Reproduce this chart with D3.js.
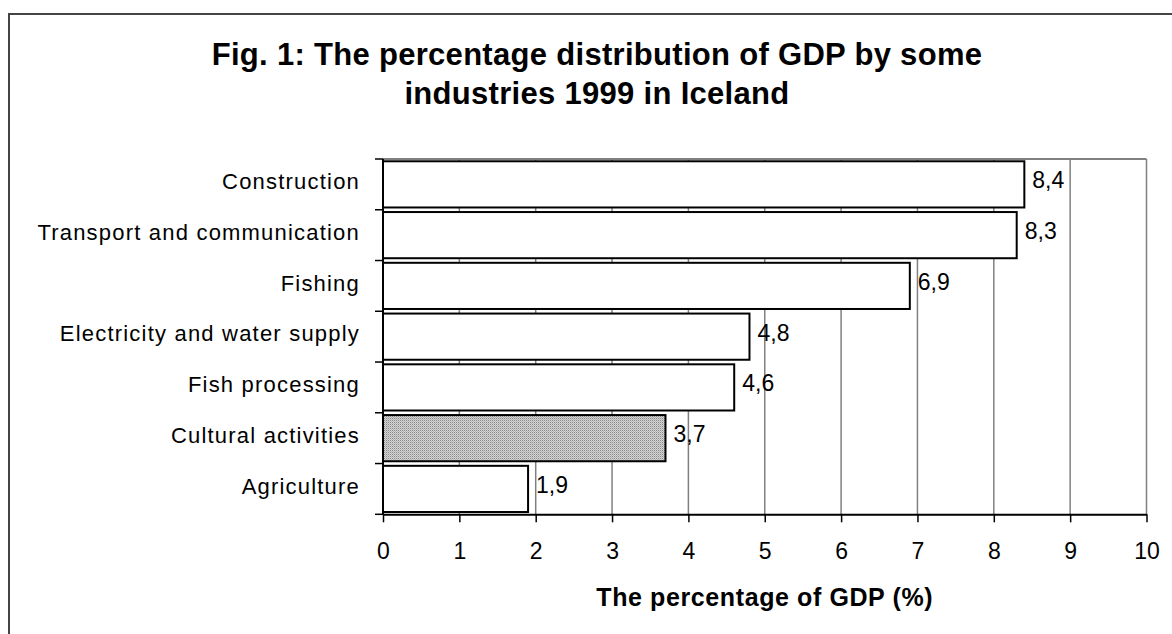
<!DOCTYPE html>
<html>
<head>
<meta charset="utf-8">
<script src="https://cdn.jsdelivr.net/npm/d3@7"></script>
<style>
  html, body { margin: 0; padding: 0; background: #fff; }
  svg { display: block; }
  text { font-family: "Liberation Sans", Arial, sans-serif; fill: #000; }
</style>
</head>
<body>
<svg id="chart" width="1172" height="634"></svg>
<script>
// GDP share by industry, Iceland 1999
const categories = [
  "Construction",
  "Transport and communication",
  "Fishing",
  "Electricity and water supply",
  "Fish processing",
  "Cultural activities",
  "Agriculture"
];
const values = [8.4, 8.3, 6.9, 4.8, 4.6, 3.7, 1.9];
const highlighted = ["Cultural activities"];
const xTicks = [0, 1, 2, 3, 4, 5, 6, 7, 8, 9, 10];
const titleLines = [
  "Fig. 1: The percentage distribution of GDP by some",
  "industries 1999 in Iceland"
];
const xTitle = "The percentage of GDP (%)";

const svg = d3.select("#chart");

// outer frame (runs past the right and bottom of the view)
svg.append("rect")
  .attr("x", 9).attr("y", 14)
  .attr("width", 1300).attr("height", 800)
  .attr("fill", "none").attr("stroke", "#444").attr("stroke-width", 2);

// fine stipple used for the highlighted bar
const defs = svg.append("defs");
const pat = defs.append("pattern")
  .attr("id", "stipple")
  .attr("patternUnits", "userSpaceOnUse")
  .attr("width", 2).attr("height", 2);
pat.append("rect").attr("width", 2).attr("height", 2).attr("fill", "#d4d4d4");
pat.append("rect").attr("x", 0).attr("y", 0).attr("width", 1).attr("height", 1).attr("fill", "#8a8a8a");
pat.append("rect").attr("x", 1).attr("y", 1).attr("width", 1).attr("height", 1).attr("fill", "#b4b4b4");

// title
svg.append("text")
  .attr("x", 597).attr("y", 65)
  .attr("text-anchor", "middle")
  .style("font-size", "31px").style("font-weight", "bold").style("letter-spacing", "0.3px")
  .selectAll("tspan")
  .data(titleLines)
  .join("tspan")
  .attr("x", 597)
  .attr("dy", (d, i) => i === 0 ? 0 : 39)
  .text(d => d);

const plot = { left: 383, right: 1146.5, top: 159, bottom: 514.3 };

const x = d3.scaleLinear().domain([0, 10]).range([plot.left, plot.right]);
const y = d3.scaleBand()
  .domain(categories)
  .range([plot.top, plot.bottom])
  .paddingInner(0.09)
  .paddingOuter(0.045);

// vertical gridlines
svg.append("g")
  .selectAll("line")
  .data(xTicks.filter(t => t > 0))
  .join("line")
  .attr("x1", d => x(d)).attr("x2", d => x(d))
  .attr("y1", plot.top).attr("y2", plot.bottom)
  .attr("stroke", "#808080").attr("stroke-width", 1.5);

// plot area top border
svg.append("line")
  .attr("x1", plot.left).attr("x2", plot.right)
  .attr("y1", plot.top).attr("y2", plot.top)
  .attr("stroke", "#808080").attr("stroke-width", 2);

// bars
const rows = categories.map((c, i) => ({ cat: c, val: values[i] }));
svg.append("g")
  .selectAll("rect")
  .data(rows)
  .join("rect")
  .attr("x", x(0))
  .attr("y", d => y(d.cat))
  .attr("width", d => x(d.val) - x(0))
  .attr("height", y.bandwidth())
  .attr("fill", d => highlighted.includes(d.cat) ? "url(#stipple)" : "#fff")
  .attr("stroke", "#000").attr("stroke-width", 2);

// value labels
svg.append("g")
  .selectAll("text")
  .data(rows)
  .join("text")
  .attr("x", d => x(d.val) + 8)
  .attr("y", d => y(d.cat) + y.bandwidth() / 2 + 4)
  .style("font-size", "23px")
  .text(d => d3.format(".1f")(d.val).replace(".", ","));

// x axis
const xAxis = svg.append("g")
  .attr("transform", `translate(0,${plot.bottom})`)
  .call(d3.axisBottom(x).tickValues(xTicks).tickSize(8).tickSizeOuter(0).tickPadding(20)
    .tickFormat(d3.format("d")));
xAxis.select(".domain").attr("stroke", "#000").attr("stroke-width", 2);
xAxis.selectAll(".tick line").attr("stroke", "#000").attr("stroke-width", 1.5);
xAxis.selectAll(".tick text")
  .style("font-size", "23px")
  .style("font-family", "'Liberation Sans', Arial, sans-serif")
  .attr("fill", "#000");

// y axis: category labels
const yAxis = svg.append("g")
  .attr("transform", `translate(${plot.left},0)`)
  .call(d3.axisLeft(y).tickSize(0).tickPadding(23));
yAxis.select(".domain").remove();
yAxis.selectAll(".tick text")
  .style("font-size", "22px")
  .style("letter-spacing", "1.2px")
  .style("font-family", "'Liberation Sans', Arial, sans-serif")
  .attr("fill", "#000")
  .attr("dy", "0.22em");

// y axis line and category boundary ticks
const half = y.step() * y.paddingInner() / 2;
const bounds = categories.map(c => y(c) - half).concat([plot.bottom]);
svg.append("line")
  .attr("x1", plot.left).attr("x2", plot.left)
  .attr("y1", plot.top).attr("y2", plot.bottom)
  .attr("stroke", "#000").attr("stroke-width", 2);
svg.append("g")
  .selectAll("line")
  .data(bounds)
  .join("line")
  .attr("x1", plot.left - 8).attr("x2", plot.left)
  .attr("y1", d => d).attr("y2", d => d)
  .attr("stroke", "#000").attr("stroke-width", 1.5);

// x axis title
svg.append("text")
  .attr("x", (plot.left + plot.right) / 2)
  .attr("y", 606)
  .attr("text-anchor", "middle")
  .style("font-size", "25px").style("font-weight", "bold").style("letter-spacing", "0.6px")
  .text(xTitle);
</script>
</body>
</html>
